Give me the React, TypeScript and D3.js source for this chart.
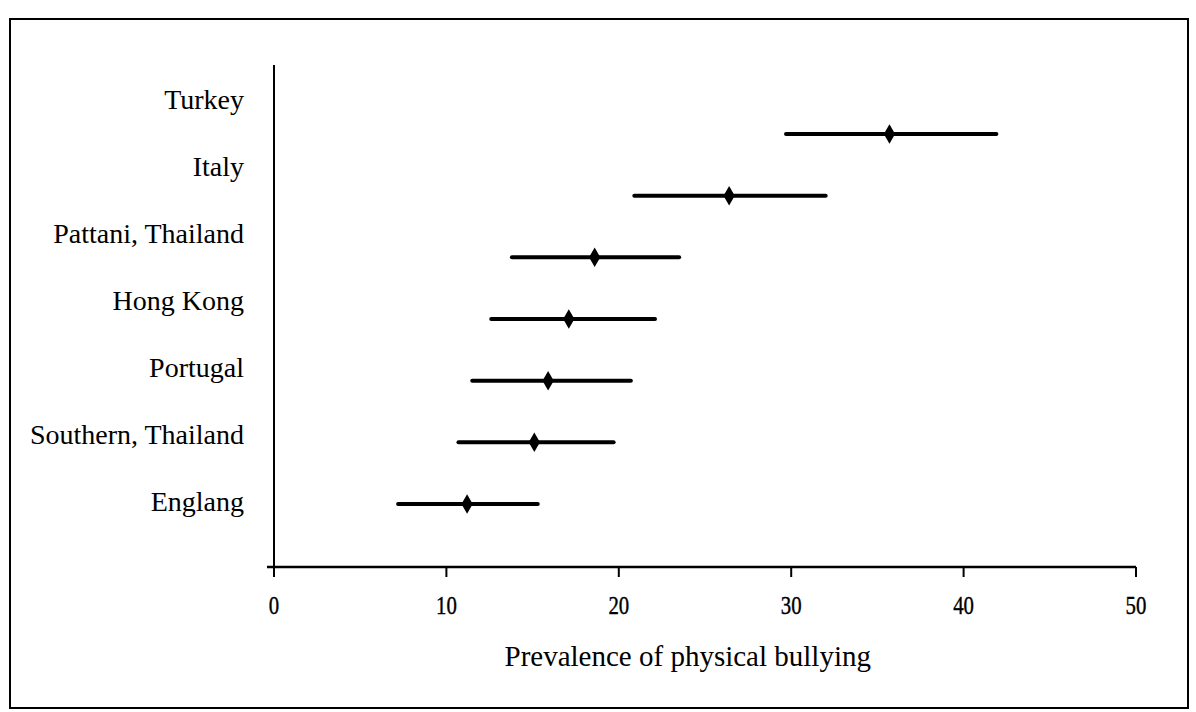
import React, { useEffect, useRef } from "react";
import * as d3 from "d3";

const countries = ["Turkey", "Italy", "Pattani, Thailand", "Hong Kong", "Portugal", "Southern, Thailand", "Englang"];
const estimates = [35.7, 26.4, 18.6, 17.1, 15.9, 15.1, 11.2];
const lowerCI = [29.7, 20.9, 13.8, 12.6, 11.5, 10.7, 7.2];
const upperCI = [41.9, 32.0, 23.5, 22.1, 20.7, 19.7, 15.3];
const xTicks = [0, 10, 20, 30, 40, 50];
const xTitle = "Prevalence of physical bullying";

export default function App() {
  const ref = useRef<SVGSVGElement>(null);

  useEffect(() => {
    const svg = d3.select(ref.current);
    svg.selectAll("*").remove();

    const font = "'Liberation Serif', 'Times New Roman', serif";

    // outer frame
    svg.append("rect").attr("x", 10).attr("y", 19).attr("width", 1178).attr("height", 689)
      .attr("fill", "none").attr("stroke", "#000").attr("stroke-width", 2);

    const x = d3.scaleLinear().domain([0, 50]).range([274, 1136]);
    const axisY = 567;
    const y = d3.scalePoint<string>().domain(countries).range([134, 504]);
    const yLabel = d3.scalePoint<string>().domain(countries).range([100, 502]);

    const items = countries.map((c, i) => ({ c, est: estimates[i], lo: lowerCI[i], hi: upperCI[i] }));

    // y axis line
    svg.append("line").attr("x1", x(0)).attr("x2", x(0)).attr("y1", 65).attr("y2", axisY + 6)
      .attr("stroke", "#000").attr("stroke-width", 2);

    // x axis
    const gx = svg.append("g").attr("transform", `translate(0,${axisY})`);
    gx.append("line").attr("x1", x(0) - 7).attr("x2", x(50)).attr("stroke", "#000").attr("stroke-width", 2.5);
    gx.selectAll(".tick").data(xTicks).join("line")
      .attr("x1", d => x(d)).attr("x2", d => x(d)).attr("y1", 0).attr("y2", 10)
      .attr("stroke", "#000").attr("stroke-width", 2);
    gx.selectAll(".tl").data(xTicks).join("text")
      .attr("transform", d => `translate(${x(d)},47) scale(0.8,1)`)
      .attr("text-anchor", "middle").attr("font-family", font).attr("font-size", 26)
      .attr("stroke", "#000").attr("stroke-width", 0.4)
      .text(d => d);

    svg.append("text").attr("x", x(24)).attr("y", 666)
      .attr("text-anchor", "middle").attr("font-family", font).attr("font-size", 29)
      .text(xTitle);

    // category labels
    svg.selectAll(".cl").data(items).join("text")
      .attr("x", 244).attr("y", d => (yLabel(d.c) as number) + 9)
      .attr("text-anchor", "end").attr("font-family", font).attr("font-size", 28)
      .text(d => d.c);

    // CI lines
    svg.selectAll(".ci").data(items).join("line")
      .attr("x1", d => x(d.lo)).attr("x2", d => x(d.hi))
      .attr("y1", d => y(d.c) as number).attr("y2", d => y(d.c) as number)
      .attr("stroke", "#000").attr("stroke-width", 4).attr("stroke-linecap", "round");

    // point estimates
    svg.selectAll(".pt").data(items).join("path")
      .attr("d", d3.symbol().type(d3.symbolDiamond).size(110)())
      .attr("transform", d => `translate(${x(d.est)},${y(d.c)})`)
      .attr("fill", "#000");
  }, []);

  return (
    <svg ref={ref} width={1196} height={712}
      style={{ position: "absolute", left: 0, top: 0, background: "#fff" }} />
  );
}
